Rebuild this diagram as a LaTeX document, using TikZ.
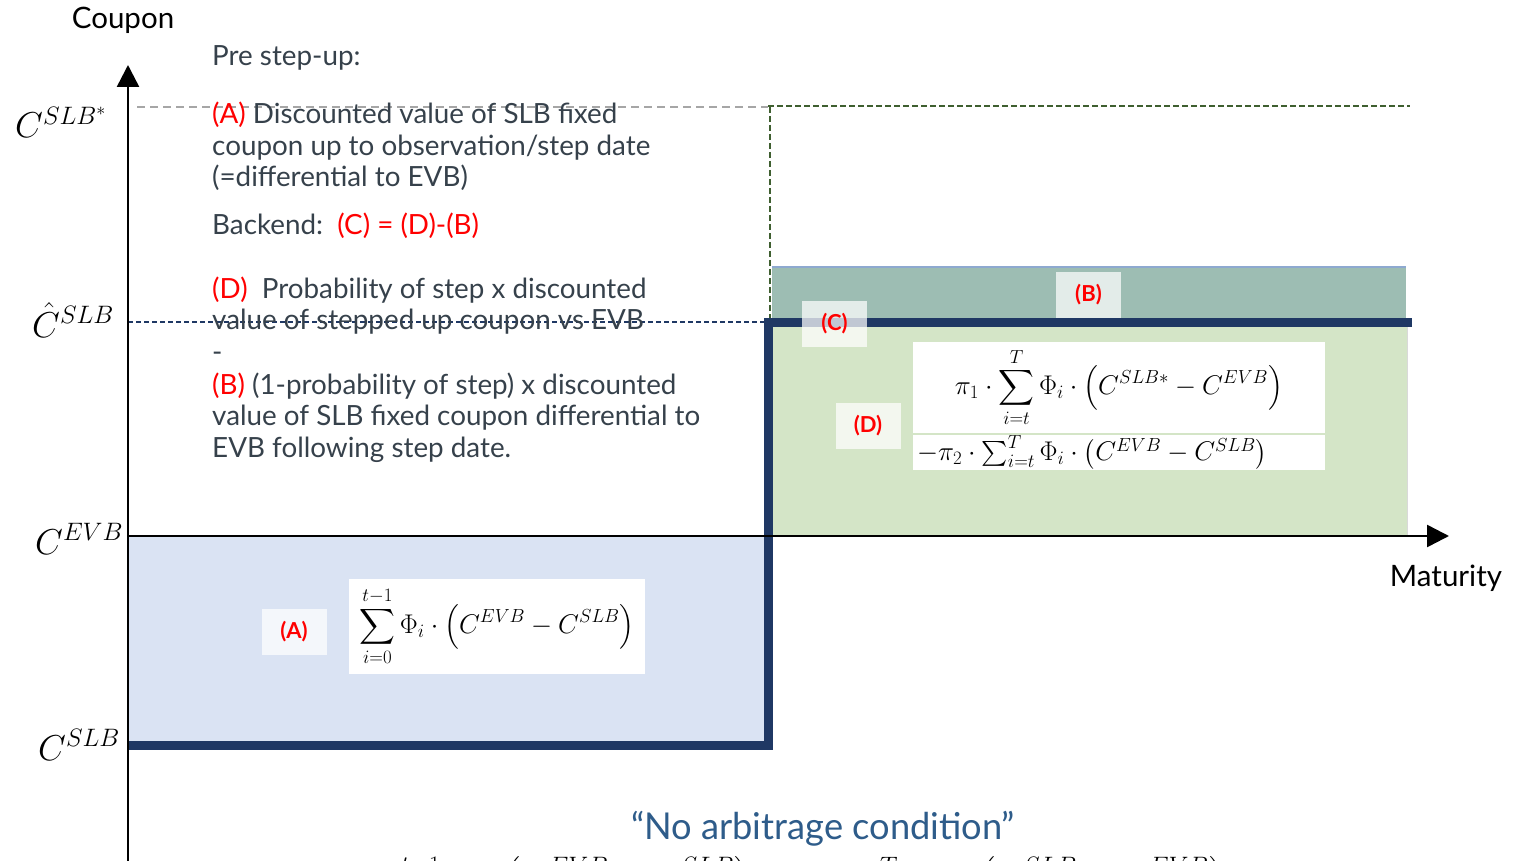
\RequirePackage{fix-cm}
\documentclass[tikz,border=0pt]{standalone}
\usepackage{amsmath}
\usepackage{fontspec}
\setmainfont{Lato}
\usetikzlibrary{arrows.meta}
\definecolor{txt}{HTML}{36414B}
\definecolor{bluefill}{HTML}{DAE3F3}
\definecolor{greenfill}{HTML}{D4E5C7}
\definecolor{tealfill}{HTML}{9DBDB3}
\definecolor{navy}{HTML}{1F3864}
\definecolor{dgreen}{HTML}{3F5F30}
\definecolor{titleblue}{HTML}{2E5C8A}
\definecolor{edgeblue}{HTML}{8EA9D0}
\tikzset{
  x=1pt, y=-1pt,
  para/.style={anchor=base west, inner sep=0pt, text=txt, align=left,
    font=\fontsize{27.8}{31.5}\selectfont},
  axlab/.style={anchor=base west, inner sep=0pt, font=\fontsize{36}{40}\selectfont},
  tag/.style={fill=white, fill opacity=0.72, text opacity=1, text=red,
    minimum width=65pt, minimum height=46pt, inner sep=0pt,
    font=\fontsize{22}{24}\selectfont\bfseries},
  fbox/.style={fill=white, inner sep=0pt},
  axis/.style={line width=2.5pt, -{Triangle[width=22pt,length=22pt]}},
}
\begin{document}
\begin{tikzpicture}
\useasboundingbox (0,0) rectangle (1521,861);
% regions
\fill[bluefill] (128,536) rectangle (768,745);
\fill[greenfill] (772,327) rectangle (1407,536);
\draw[black!15, line width=1pt] (1407,327) -- (1407,536);
\fill[tealfill] (772,267) rectangle (1406,318);
\draw[edgeblue, line width=2pt] (772,267) -- (1406,267);
% dashed guide lines
\draw[black!35, line width=1.5pt, dash pattern=on 8pt off 5pt] (137,107) -- (768,107);
\draw[dgreen, line width=1.5pt, dash pattern=on 6pt off 3pt] (768,106) -- (1410,106);
\draw[dgreen, line width=1.5pt, dash pattern=on 6pt off 3pt] (770,107) -- (770,655);
\draw[navy, line width=1.5pt, dash pattern=on 5pt off 3pt] (128,322) -- (768,322);
% coupon path
\draw[navy, line width=9pt, line join=miter] (128,745) -| (768,322) -- (1412,322);
% axes
\coordinate (o) at (128,861);
\coordinate (ytip) at (128,65);
\coordinate (xo) at (128,536);
\coordinate (xtip) at (1449,536);
\draw[axis] (o) -- (ytip);
\draw[axis] (xo) -- (xtip);
\node[font=\fontsize{29.5}{32}\selectfont] (coupon) at (123,20) {Coupon};
\node[font=\fontsize{29.5}{32}\selectfont] (maturity) at (1446,578) {Maturity};
% axis labels
\node[axlab] (cslbs) at (15,138) {$C^{SLB^*}$};
\node[axlab] (chat) at (32,337) {$\hat{C}^{SLB}$};
\node[axlab] (cevb) at (35,554) {$C^{EVB}$};
\node[axlab] (cslb) at (38,760) {$C^{SLB}$};
% text block (anchor = baseline of the last line)
\node[para] (pre) at (212,66) {Pre step-up:};
\node[para] (pa) at (212,187) {\textcolor{red}{(A)} Discounted value of SLB fixed\\coupon up to observation/step date\\(=differential to EVB)};
\node[para] (back) at (212,235) {Backend:\ \ \textcolor{red}{(C) = (D)-(B)}};
\node[para] (pd) at (212,361) {\textcolor{red}{(D)}\ \ Probability of step x discounted\\value of stepped up coupon vs EVB\\-};
\node[para] (pb) at (212,457) {\textcolor{red}{(B)} (1-probability of step) x discounted\\value of SLB fixed coupon differential to\\EVB following step date.};
% formula boxes
\node[fbox, minimum width=296pt, minimum height=95pt] (fa) at (497,626.5)
  {\fontsize{27}{30}\selectfont$\displaystyle\sum_{i=0}^{t-1}\Phi_i\cdot\left(C^{EVB}-C^{SLB}\right)$};
\node[fbox, minimum width=412pt, minimum height=91pt] (fd1) at (1119,387.5)
  {\fontsize{27}{30}\selectfont$\pi_1\cdot\displaystyle\sum_{i=t}^{T}\Phi_i\cdot\left(C^{SLB*}-C^{EVB}\right)$};
\node[fbox, minimum width=412pt, minimum height=35pt, text width=404pt, align=left] (fd2) at (1119,452.5)
  {\fontsize{27}{30}\selectfont$-\pi_2\cdot\textstyle\sum_{i=t}^{T}\Phi_i\cdot\left(C^{EVB}-C^{SLB}\right)$};
% tags
\node[tag] (ta) at (294,632) {(A)};
\node[tag] (tb) at (1088.5,294.5) {(B)};
\node[tag] (tc) at (834.5,324) {(C)};
\node[tag] (td) at (868,425.5) {(D)};
% bottom
\node[text=titleblue] (title) at (823,829)
  {\scalebox{0.98}[1]{\fontsize{37}{40}\selectfont “No arbitrage condition”}};
\node[anchor=base] (cond) at (799,888)
  {\fontsize{36}{40}\selectfont$\textstyle\sum_{i=0}^{t-1}\Phi_i\cdot\left(C^{EVB}-C^{SLB}\right)=\pi_1\cdot\textstyle\sum_{i=t}^{T}\Phi_i\cdot\left(C^{SLB}-C^{EVB}\right)$};
\end{tikzpicture}
\end{document}
